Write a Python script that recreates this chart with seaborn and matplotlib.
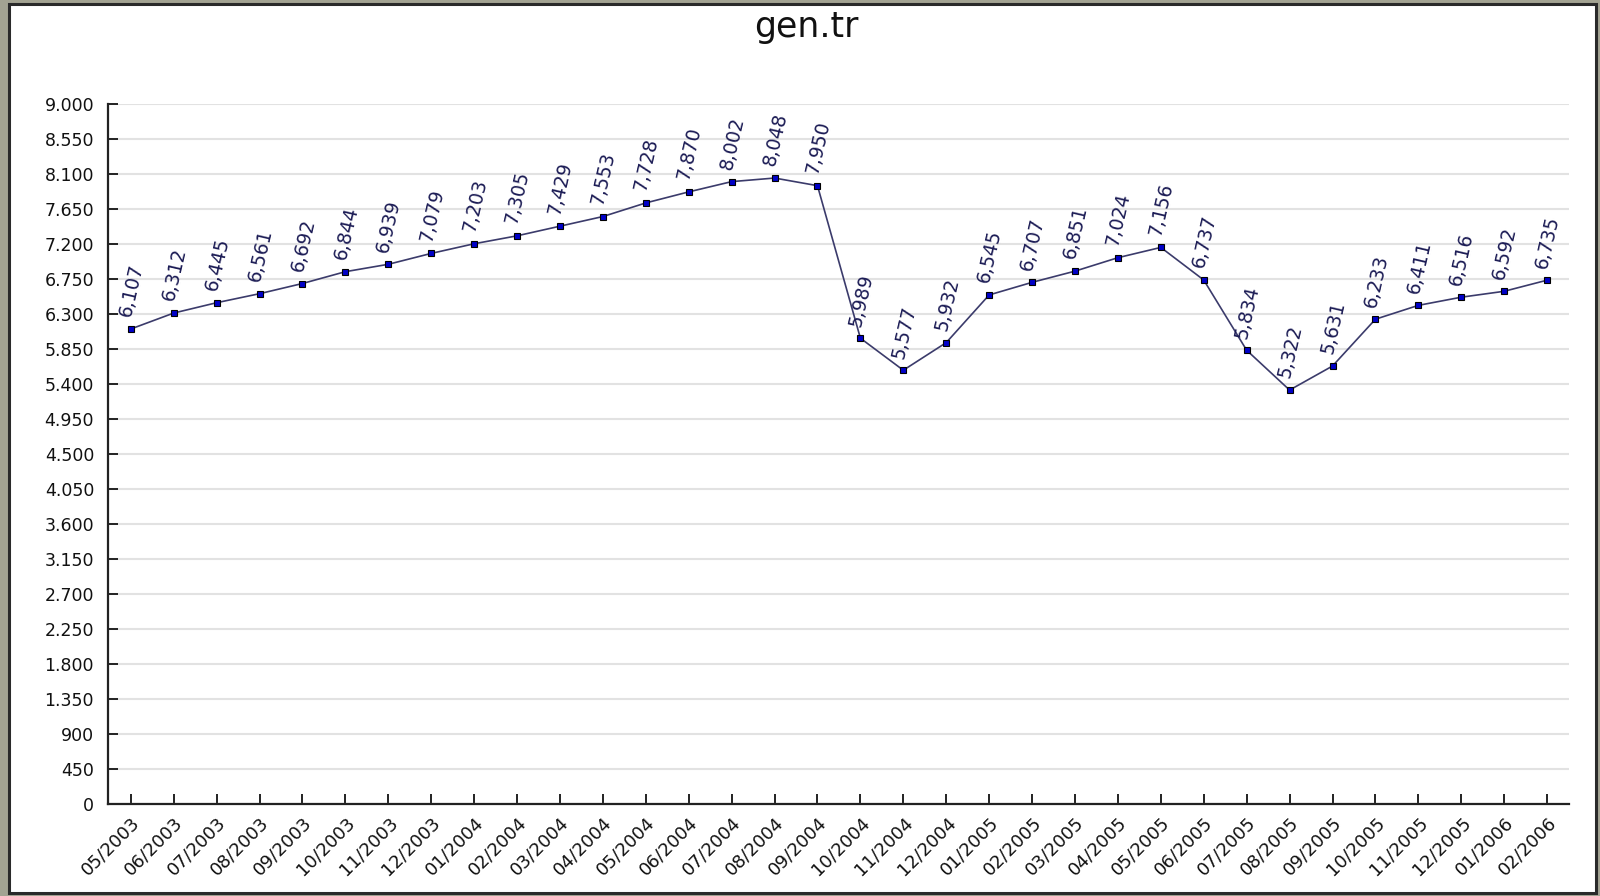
import matplotlib
matplotlib.use("Agg")
import matplotlib.pyplot as plt
import seaborn as sns
import pandas as pd
from matplotlib.patches import Rectangle

months = ["05/2003", "06/2003", "07/2003", "08/2003", "09/2003", "10/2003", "11/2003", "12/2003",
          "01/2004", "02/2004", "03/2004", "04/2004", "05/2004", "06/2004", "07/2004", "08/2004",
          "09/2004", "10/2004", "11/2004", "12/2004", "01/2005", "02/2005", "03/2005", "04/2005",
          "05/2005", "06/2005", "07/2005", "08/2005", "09/2005", "10/2005", "11/2005", "12/2005",
          "01/2006", "02/2006"]
values = [6107, 6312, 6445, 6561, 6692, 6844, 6939, 7079, 7203, 7305, 7429, 7553, 7728, 7870,
          8002, 8048, 7950, 5989, 5577, 5932, 6545, 6707, 6851, 7024, 7156, 6737, 5834, 5322,
          5631, 6233, 6411, 6516, 6592, 6735]
y_ticks = list(range(0, 9001, 450))
title = "gen.tr"

sns.set_theme(style="white")
plt.rcParams['font.family'] = ['DejaVu Sans']

fig = plt.figure(figsize=(16, 8.96), dpi=100, facecolor="#a3a392")
fig.patches.append(Rectangle((9 / 1600, 3 / 896), 1587 / 1600, 889 / 896, transform=fig.transFigure,
                             facecolor="white", edgecolor="#2a2a2a", linewidth=2.2, zorder=-10))
ax = fig.add_axes([108 / 1600, 1 - 804 / 896, (1569 - 108) / 1600, (804 - 104) / 896])
ax.set_facecolor("none")

df = pd.DataFrame({"idx": range(len(values)), "value": values})
sns.lineplot(data=df, x="idx", y="value", ax=ax, color="#3b3b6b", linewidth=1.2,
             marker="s", markersize=4.5, markerfacecolor="#0000c8", markeredgecolor="black",
             markeredgewidth=0.8, zorder=3)

for i, v in enumerate(values):
    ax.annotate(f"{v:,}", (i, v), xytext=(0, 8), textcoords="offset points",
                rotation=77, rotation_mode="anchor", ha="left", va="baseline",
                fontsize=13.5, color="#1c1c55", zorder=4)

ax.set_xlim(-0.53, len(values) - 1 + 0.51)
ax.set_ylim(0, 9000)
ax.set_yticks(y_ticks)
ax.set_yticklabels([f"{t:,}".replace(",", ".") for t in y_ticks], fontsize=12.5, color="#111111")
ax.set_xticks(range(len(months)))
ax.set_xticklabels(months, rotation=45, ha="right", rotation_mode="anchor", fontsize=13, color="#111111")
ax.yaxis.grid(True, color="#e2e2e2", linewidth=1.5)
ax.xaxis.grid(False)
ax.set_axisbelow(True)
ax.tick_params(axis="both", which="major", direction="in", length=7.5, width=1.4,
               color="#222222", bottom=True, left=True, top=False, right=False)
ax.tick_params(axis="y", pad=10)
ax.tick_params(axis="x", pad=7)
for s in ["top", "right"]:
    ax.spines[s].set_visible(False)
for s in ["left", "bottom"]:
    ax.spines[s].set_color("#222222")
    ax.spines[s].set_linewidth(1.6)
ax.set_xlabel("")
ax.set_ylabel("")

fig.text(806 / 1600, 1 - 27 / 896, title, ha="center", va="center", fontsize=25, color="#111111")

fig.savefig("out.png", dpi=100, facecolor=fig.get_facecolor())
